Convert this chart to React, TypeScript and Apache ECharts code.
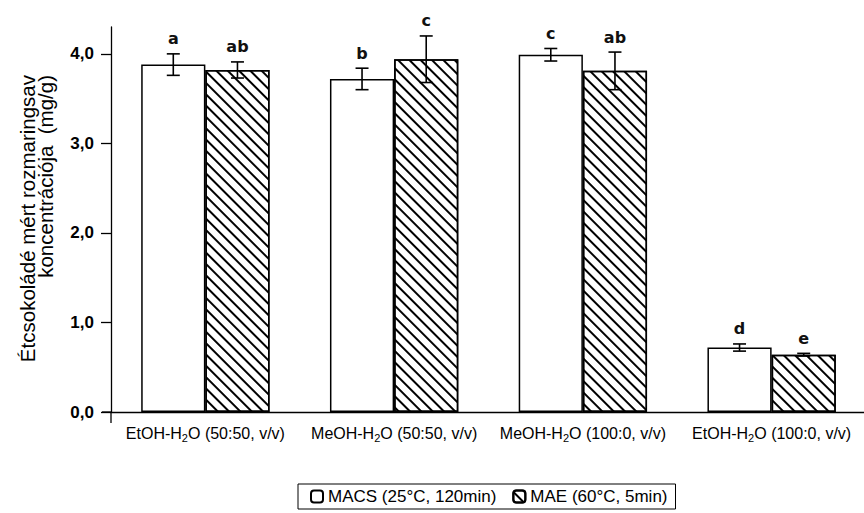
import React, { useEffect, useRef } from "react";
import * as echarts from "echarts";

// Extraction systems on the x axis
const categories = [
  "EtOH-H2O (50:50, v/v)",
  "MeOH-H2O (50:50, v/v)",
  "MeOH-H2O (100:0, v/v)",
  "EtOH-H2O (100:0, v/v)",
];

const macsName = "MACS (25°C, 120min)";
const maeName = "MAE (60°C, 5min)";

// Rosmarinic acid concentration (mg/g) and standard deviations
const macsValues = [3.88, 3.72, 3.99, 0.72];
const macsErrors = [0.12, 0.12, 0.07, 0.04];
const maeValues = [3.82, 3.94, 3.81, 0.64];
const maeErrors = [0.09, 0.26, 0.21, 0.015];

// Significance letters
const macsLetters = ["a", "b", "c", "d"];
const maeLetters = ["ab", "c", "ab", "e"];

const yTicks = [0, 1, 2, 3, 4];

const GRID_LEFT = 111;
const GRID_BOTTOM_Y = 412;
const BAR_SHARE = 0.34;

function errorSeries(
  name: string,
  values: number[],
  errors: number[],
  letters: string[],
  side: number
) {
  return {
    type: "custom",
    name,
    z: 5,
    data: values.map((v, i) => [i, v, errors[i]]),
    renderItem: (params: any, api: any) => {
      const idx = api.value(0);
      const val = api.value(1);
      const err = api.value(2);
      const band = api.size([1, 0])[0];
      const x = api.coord([idx, val])[0] + side * band * (BAR_SHARE / 2);
      const top = api.coord([idx, val + err])[1];
      const bottom = api.coord([idx, val - err])[1];
      const cap = 6.5;
      const line = { stroke: "#000", lineWidth: 1.6 };
      return {
        type: "group",
        children: [
          { type: "line", shape: { x1: x, y1: top, x2: x, y2: bottom }, style: line },
          { type: "line", shape: { x1: x - cap, y1: top, x2: x + cap, y2: top }, style: line },
          { type: "line", shape: { x1: x - cap, y1: bottom, x2: x + cap, y2: bottom }, style: line },
          {
            type: "text",
            style: {
              text: letters[params.dataIndex],
              x,
              y: top - 7,
              align: "center",
              verticalAlign: "bottom",
              fill: "#111",
              font: "bold 16px 'DejaVu Sans', sans-serif",
            },
          },
        ],
      };
    },
  };
}

export default function App() {
  const ref = useRef<HTMLDivElement>(null);

  useEffect(() => {
    if (!ref.current) return;
    const chart = echarts.init(ref.current, null, { renderer: "svg" });

    const hatch = {
      symbol: "rect",
      symbolSize: 1,
      color: "#000",
      backgroundColor: "#fff",
      dashArrayX: [1, 0],
      dashArrayY: [1.5, 5.6],
      rotation: Math.PI / 4,
    };

    const font = "'Liberation Sans', Arial, sans-serif";

    chart.setOption({
      animation: false,
      backgroundColor: "#fff",
      grid: {
        left: GRID_LEFT,
        right: -2,
        top: 27,
        bottom: 101,
        containLabel: false,
        outerBoundsMode: "none",
      },
      legend: {
        data: [macsName, maeName],
        left: 298,
        top: 484,
        orient: "horizontal",
        itemWidth: 12,
        itemHeight: 12,
        itemGap: 16,
        padding: [4, 8, 4, 12],
        borderColor: "#000",
        borderWidth: 1,
        textStyle: { color: "#000", fontSize: 17, fontFamily: font },
      },
      xAxis: {
        type: "category",
        data: categories,
        axisLine: { lineStyle: { color: "#000", width: 1.3 } },
        axisTick: { length: 8, lineStyle: { color: "#000", width: 1.3 } },
        axisLabel: {
          interval: 0,
          hideOverlap: false,
          margin: 12,
          color: "#000",
          fontSize: 16,
          fontFamily: font,
          formatter: (v: string) => {
            const [pre, post] = v.split("H2O");
            return `{n|${pre}H}{sub|2}{n|O${post}}`;
          },
          rich: {
            n: { fontSize: 16, fontFamily: font, color: "#000" },
            sub: { fontSize: 11, fontFamily: font, color: "#000", padding: [8, 0, 0, 0] },
          },
        },
      },
      yAxis: {
        type: "value",
        min: 0,
        max: 4.3,
        interval: 1,
        splitLine: { show: false },
        axisLine: { show: true, lineStyle: { color: "#000", width: 1.3 } },
        axisTick: {
          show: true,
          length: 10,
          customValues: yTicks,
          lineStyle: { color: "#000", width: 1.3 },
        },
        axisLabel: {
          customValues: yTicks,
          margin: 17,
          color: "#000",
          fontSize: 17,
          fontWeight: "bold",
          fontFamily: font,
          formatter: (v: number) => v.toFixed(1).replace(".", ","),
        },
      },
      graphic: [
        {
          type: "text",
          x: 27,
          y: 75,
          rotation: Math.PI / 2,
          style: {
            text: "Étcsokoládé mért rozmaringsav",
            align: "right",
            verticalAlign: "middle",
            fill: "#000",
            font: `20.5px ${font}`,
          },
        },
        {
          type: "text",
          x: 45,
          y: 75,
          rotation: Math.PI / 2,
          style: {
            text: "koncentrációja  (mg/g)",
            align: "right",
            verticalAlign: "middle",
            fill: "#000",
            font: `20.5px ${font}`,
          },
        },
        {
          type: "line",
          shape: { x1: 102, y1: GRID_BOTTOM_Y, x2: GRID_LEFT, y2: GRID_BOTTOM_Y },
          style: { stroke: "#000", lineWidth: 1.3 },
        },
        {
          type: "line",
          shape: { x1: GRID_LEFT, y1: GRID_BOTTOM_Y, x2: GRID_LEFT, y2: GRID_BOTTOM_Y + 11 },
          style: { stroke: "#000", lineWidth: 1.3 },
        },
      ],
      series: [
        {
          type: "bar",
          name: macsName,
          data: macsValues,
          barWidth: `${BAR_SHARE * 100}%`,
          barGap: "0%",
          itemStyle: { color: "#fff", borderColor: "#000", borderWidth: 1.5 },
        },
        {
          type: "bar",
          name: maeName,
          data: maeValues,
          barWidth: `${BAR_SHARE * 100}%`,
          barGap: "0%",
          itemStyle: { color: "#fff", borderColor: "#000", borderWidth: 1.5, decal: hatch },
        },
        errorSeries("macs-err", macsValues, macsErrors, macsLetters, -1),
        errorSeries("mae-err", maeValues, maeErrors, maeLetters, 1),
      ],
    });

    return () => chart.dispose();
  }, []);

  return (
    <div
      ref={ref}
      style={{ position: "fixed", left: 0, top: 0, width: 864, height: 513 }}
    />
  );
}
